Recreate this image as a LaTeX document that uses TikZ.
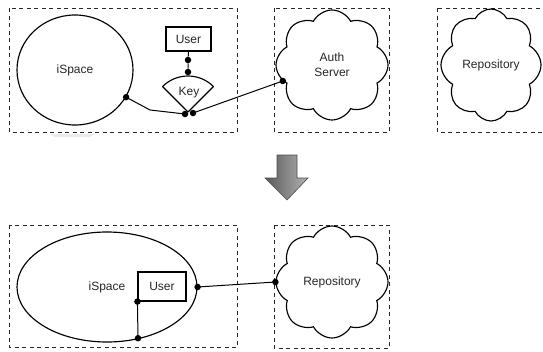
\documentclass[tikz,border=0pt]{standalone}
\usepackage{fontspec}
\setmainfont{Liberation Sans}
\usetikzlibrary{shapes.geometric,shapes.symbols,calc}
\begin{document}
\begin{tikzpicture}[x=1pt,y=-1pt,
  every node/.style={font=\fontsize{12}{15}\selectfont, text=black!85},
  zone/.style={draw, black!85, dash pattern=on 4pt off 3.5pt, line width=0.9pt},
  outline/.style={draw, line width=1.15pt},
  joint/.style={circle, fill=black, draw=none, inner sep=0pt, minimum size=6.5pt},
  link/.style={line width=1pt},
  puffy/.style={cloud, cloud puffs=8, cloud puff arc=125, outline, inner sep=0pt, align=center},
]
\useasboundingbox (0,0) rectangle (543,351);

% dashed zones
\draw[zone] (9,8) rectangle (237,132);
\draw[zone] (274,8) rectangle (389,132);
\draw[zone] (437,8) rectangle (548,132);
\draw[zone] (9,225) rectangle (237,347);
\draw[zone] (274,225) rectangle (389,348);

% faint shadow under the first zone
\fill[black!8] (50,134) -- (95,134) -- (90,137) -- (55,137) -- cycle;

% ---------- before ----------
\node[ellipse, outline, minimum width=116pt, minimum height=110pt, inner sep=0pt] (ispaceA) at (75,70) {iSpace};
\node[rectangle, outline, minimum width=45pt, minimum height=24pt] (userA) at (188.5,39) {User};

% key sector
\draw[outline, line join=round] (188,112) -- ++(225:36) arc (225:315:36) -- cycle;
\node (keyA) at (189,93) {Key};

\node[puffy, minimum width=112pt, minimum height=110pt] (authA) at (332,65) {Auth\\Server};
\node[puffy, minimum width=100pt, minimum height=112pt] (repoA) at (491,65) {Repository};

\node[joint] (jA1) at (188,60) {};
\node[joint] (jA2) at (188,72) {};
\node[joint] (jA3) at (ispaceA.-28) {};
\node[joint] (jA4) at (185,114) {};
\node[joint] (jA5) at (193,113) {};
\node[joint] (jA6) at (authA.198) {};
\coordinate (bend) at (150,110);

\draw[link] (userA.south) -- (jA1) -- (jA2);
\draw[link] (jA3.center) -- (bend) -- (jA4.center);
\draw[link] (jA5.center) -- (jA6.center);

% ---------- transition arrow ----------
\draw[draw=black!70, line width=0.6pt, left color=black!65, right color=black!30]
  (277,155) -- (297,155) -- (297,178) -- (308,178) -- (287,200) -- (265,178) -- (277,178) -- cycle;

% ---------- after ----------
\node[ellipse, outline, minimum width=180pt, minimum height=110pt, inner sep=0pt] (ispaceB) at (107,287) {iSpace};
\node[rectangle, outline, minimum width=48pt, minimum height=29pt] (userB) at (162,286.5) {User};
\node[puffy, minimum width=112pt, minimum height=112pt] (repoB) at (332,282) {Repository};

\node[joint] (jB1) at (userB.south west) {};
\node[joint] (jB2) at (138,338.2) {};
\node[joint] (jB3) at (ispaceB.east) {};
\node[joint] (jB4) at (repoB.180) {};

\draw[link] (jB1.center) -- (jB2.center);
\draw[link] (jB3.center) -- (jB4.center);
\end{tikzpicture}
\end{document}
